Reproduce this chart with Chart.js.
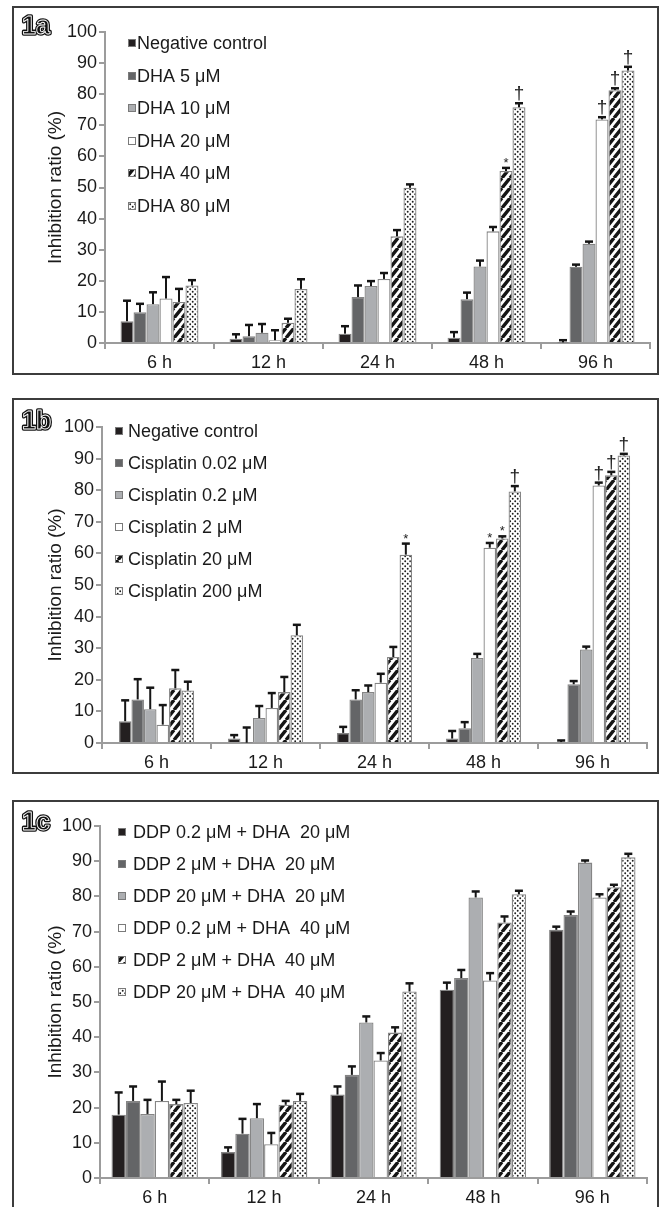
<!DOCTYPE html>
<html>
<head>
<meta charset="utf-8">
<script src="https://cdn.jsdelivr.net/npm/chart.js@4/dist/chart.umd.min.js"></script>
<style>
  html, body { margin: 0; padding: 0; background: #fff; width: 662px; height: 1207px; overflow: hidden; }
  .panel { position: absolute; left: 12px; width: 643px; border: 2px solid #3c3c3c; overflow: hidden; }
  canvas { display: block; }
</style>
</head>
<body>
<div class="panel" style="top:6px;height:365px"><canvas id="chartA" width="643" height="365"></canvas></div>
<div class="panel" style="top:398px;height:372px"><canvas id="chartB" width="643" height="372"></canvas></div>
<div class="panel" style="top:800px;height:500px"><canvas id="chartC" width="643" height="405"></canvas></div>
<script>
const timeLabels = ['6 h', '12 h', '24 h', '48 h', '96 h'];

// 1a - DHA alone
const dhaLabels = ['Negative control', 'DHA 5 μM', 'DHA 10 μM', 'DHA 20 μM', 'DHA 40 μM', 'DHA 80 μM'];
const dhaMeans = [
    [7.0, 1.4, 3.0, 1.7, 0.2],
    [9.9, 2.2, 14.8, 14.1, 24.5],
    [12.5, 3.3, 18.3, 24.6, 31.9],
    [14.3, 0.9, 20.6, 35.9, 71.9],
    [13.2, 6.5, 34.3, 55.3, 81.3],
    [18.5, 17.4, 49.9, 75.8, 87.6]
];
const dhaErrors = [
    [6.6, 1.4, 2.4, 1.8, 0.7],
    [2.7, 3.6, 3.7, 2.1, 0.7],
    [3.8, 2.8, 1.6, 1.9, 0.7],
    [6.9, 3.2, 1.9, 1.4, 0.7],
    [4.2, 1.3, 2.0, 1.0, 0.6],
    [1.7, 3.1, 1.1, 1.3, 1.2]
];
const dhaMarks = [
    ['', '', '', '', ''],
    ['', '', '', '', ''],
    ['', '', '', '', ''],
    ['', '', '', '', '†'],
    ['', '', '', '*', '†'],
    ['', '', '', '†', '†']
];

// 1b - cisplatin alone
const cisLabels = ['Negative control', 'Cisplatin 0.02 μM', 'Cisplatin 0.2 μM', 'Cisplatin 2 μM', 'Cisplatin 20 μM', 'Cisplatin 200 μM'];
const cisMeans = [
    [6.9, 1.4, 3.2, 1.4, 0.3],
    [13.8, 0.1, 13.8, 4.7, 18.6],
    [10.7, 7.9, 16.1, 26.9, 29.6],
    [5.8, 11.1, 19.1, 61.8, 81.5],
    [17.3, 16.1, 27.2, 64.7, 84.7],
    [16.6, 34.1, 59.6, 79.6, 91.0]
];
const cisErrors = [
    [6.6, 1.1, 1.9, 2.4, 0.5],
    [6.4, 4.8, 2.9, 1.9, 1.0],
    [6.8, 3.8, 2.1, 1.3, 0.9],
    [6.2, 4.7, 2.8, 1.5, 0.9],
    [5.8, 4.8, 3.2, 0.7, 1.1],
    [2.8, 3.3, 3.5, 1.7, 0.5]
];
const cisMarks = [
    ['', '', '', '', ''],
    ['', '', '', '', ''],
    ['', '', '', '', ''],
    ['', '', '', '*', '†'],
    ['', '', '', '*', '†'],
    ['', '', '*', '†', '†']
];

// 1c - combinations
const comboLabels = ['DDP 0.2 μM + DHA  20 μM', 'DDP 2 μM + DHA  20 μM', 'DDP 20 μM + DHA  20 μM',
    'DDP 0.2 μM + DHA  40 μM', 'DDP 2 μM + DHA  40 μM', 'DDP 20 μM + DHA  40 μM'];
const comboMeans = [
    [18.0, 7.4, 23.7, 53.5, 70.5],
    [21.9, 12.6, 29.3, 56.8, 74.7],
    [18.2, 17.0, 44.2, 79.7, 89.6],
    [21.9, 9.6, 33.4, 56.1, 79.7],
    [21.0, 20.8, 41.3, 72.6, 82.6],
    [21.3, 21.9, 53.0, 80.6, 91.1]
];
const comboErrors = [
    [6.3, 1.3, 2.3, 2.0, 0.9],
    [4.1, 4.2, 2.4, 2.3, 1.0],
    [4.0, 4.0, 1.7, 1.7, 0.6],
    [5.5, 3.2, 2.1, 2.1, 0.9],
    [1.2, 1.1, 1.5, 1.7, 0.7],
    [3.5, 2.0, 2.3, 1.0, 1.0]
];

const FONT = '"Liberation Sans", Arial, sans-serif';
Chart.defaults.font.family = FONT;
Chart.defaults.font.size = 18;
Chart.defaults.color = '#1a1a1a';

function hatchPattern() {
    const c = document.createElement('canvas');
    const w = 8, h = 10;
    c.width = w;
    c.height = h;
    const g = c.getContext('2d');
    g.fillStyle = '#fff';
    g.fillRect(0, 0, w, h);
    g.strokeStyle = '#151515';
    g.lineWidth = 3.4;
    g.beginPath();
    for (let k = -1; k <= 1; k++) {
        g.moveTo(k * w, h);
        g.lineTo((k + 1) * w, 0);
    }
    g.stroke();
    return g.createPattern(c, 'repeat');
}

function dotPattern() {
    const c = document.createElement('canvas');
    c.width = 5;
    c.height = 5;
    const g = c.getContext('2d');
    g.fillStyle = '#fff';
    g.fillRect(0, 0, 5, 5);
    g.fillStyle = '#1c1c1c';
    [[1.2, 1.2], [3.7, 3.7]].forEach(([x, y]) => {
        g.beginPath();
        g.arc(x, y, 0.95, 0, Math.PI * 2);
        g.fill();
    });
    return g.createPattern(c, 'repeat');
}

const fills = ['#231f20', '#646567', '#acaeb1', '#ffffff', hatchPattern(), dotPattern()];

// error bars + significance symbols on top of each bar
const errorBars = {
    id: 'errorBars',
    afterDatasetsDraw(chart) {
        const ctx = chart.ctx;
        const yScale = chart.scales.y;
        ctx.save();
        chart.data.datasets.forEach((ds, i) => {
            chart.getDatasetMeta(i).data.forEach((bar, j) => {
                const top = yScale.getPixelForValue(ds.data[j] + ds.errors[j]);
                ctx.strokeStyle = '#151515';
                ctx.lineWidth = 2;
                ctx.beginPath();
                ctx.moveTo(bar.x, bar.y);
                ctx.lineTo(bar.x, top);
                ctx.stroke();
                ctx.lineWidth = 2.5;
                ctx.beginPath();
                ctx.moveTo(bar.x - 4, top);
                ctx.lineTo(bar.x + 4, top);
                ctx.stroke();

                const mark = ds.marks ? ds.marks[j] : '';
                if (!mark) return;
                ctx.fillStyle = '#222';
                ctx.textAlign = 'center';
                ctx.textBaseline = 'alphabetic';
                if (mark === '*') {
                    ctx.font = '13px ' + FONT;
                    ctx.fillText(mark, bar.x, top - 1);
                } else {
                    ctx.font = '19px ' + FONT;
                    ctx.fillText(mark, bar.x, top - 4);
                }
            });
        });
        ctx.restore();
    }
};

// legend drawn inside the plot, top-left
const insideLegend = {
    id: 'insideLegend',
    afterDraw(chart, args, opts) {
        const ctx = chart.ctx;
        ctx.save();
        ctx.font = '18px ' + FONT;
        ctx.textBaseline = 'middle';
        ctx.textAlign = 'left';
        chart.data.datasets.forEach((ds, i) => {
            const y = Math.round(opts.y + i * opts.gap);
            ctx.fillStyle = ds.backgroundColor;
            ctx.fillRect(opts.x, y - 4, 8, 8);
            ctx.strokeStyle = '#7a7a7a';
            ctx.lineWidth = 1;
            ctx.strokeRect(opts.x + 0.5, y - 3.5, 7, 7);
            ctx.fillStyle = '#1a1a1a';
            ctx.fillText(ds.label, opts.textX, y + 1);
        });
        ctx.restore();
    }
};

const panelTag = {
    id: 'panelTag',
    afterDraw(chart, args, opts) {
        const ctx = chart.ctx;
        ctx.save();
        ctx.font = 'bold 25px ' + FONT;
        ctx.textBaseline = 'middle';
        ctx.textAlign = 'left';
        ctx.lineJoin = 'round';
        ctx.fillStyle = '#111';
        ctx.strokeStyle = '#111';
        ctx.lineWidth = 3.5;
        ctx.strokeText(opts.text, opts.x, opts.y);
        ctx.fillText(opts.text, opts.x, opts.y);
        ctx.strokeStyle = '#fff';
        ctx.lineWidth = 0.9;
        ctx.strokeText(opts.text, opts.x, opts.y);
        ctx.restore();
    }
};

function buildPanel(canvasId, labels, means, errors, marks, geo) {
    const datasets = labels.map((label, i) => ({
        label: label,
        data: means[i],
        errors: errors[i],
        marks: marks ? marks[i] : null,
        backgroundColor: fills[i],
        borderColor: '#858585',
        borderWidth: 1.3,
        categoryPercentage: geo.barFrac,
        barPercentage: 1.0
    }));

    const ctx = document.getElementById(canvasId).getContext('2d');
    return new Chart(ctx, {
        type: 'bar',
        data: { labels: timeLabels, datasets: datasets },
        plugins: [errorBars, insideLegend, panelTag],
        options: {
            responsive: false,
            animation: false,
            events: [],
            devicePixelRatio: 1,
            layout: { padding: { top: geo.top, right: geo.right, left: 0, bottom: 0 } },
            plugins: {
                legend: { display: false },
                tooltip: { enabled: false },
                insideLegend: { x: geo.legendX, textX: geo.legendTextX, y: geo.legendY, gap: geo.legendGap },
                panelTag: { text: geo.tag, x: 8, y: geo.tagY }
            },
            scales: {
                y: {
                    min: 0,
                    max: 100,
                    ticks: { stepSize: 10, padding: 2, font: { size: 18 } },
                    grid: { drawOnChartArea: false, drawTicks: true, tickLength: 6, color: '#9c9c9c', lineWidth: 2 },
                    border: { display: true, color: '#9c9c9c', width: 2 },
                    title: { display: true, text: 'Inhibition ratio (%)', font: { size: 19 }, padding: { top: 30, bottom: 0 } },
                    afterFit: (scale) => { scale.width = geo.yWidth; }
                },
                x: {
                    ticks: { padding: 3, font: { size: 18 } },
                    grid: { offset: true, drawOnChartArea: false, drawTicks: true, tickLength: 6, color: '#9c9c9c', lineWidth: 2 },
                    border: { display: true, color: '#9c9c9c', width: 2 },
                    afterFit: (scale) => { scale.height = geo.xHeight; }
                }
            }
        }
    });
}

buildPanel('chartA', dhaLabels, dhaMeans, dhaErrors, dhaMarks, {
    yWidth: 91, xHeight: 30, top: 24, right: 7, barFrac: 0.715,
    tag: '1a', tagY: 19, legendX: 114, legendTextX: 123, legendY: 35, legendGap: 32.6
});
buildPanel('chartB', cisLabels, cisMeans, cisErrors, cisMarks, {
    yWidth: 88, xHeight: 29, top: 27, right: 10, barFrac: 0.69,
    tag: '1b', tagY: 22, legendX: 101, legendTextX: 114, legendY: 31, legendGap: 32
});
buildPanel('chartC', comboLabels, comboMeans, comboErrors, null, {
    yWidth: 86, xHeight: 29, top: 24, right: 10, barFrac: 0.79,
    tag: '1c', tagY: 21, legendX: 104, legendTextX: 119, legendY: 30, legendGap: 32
});
</script>
</body>
</html>
